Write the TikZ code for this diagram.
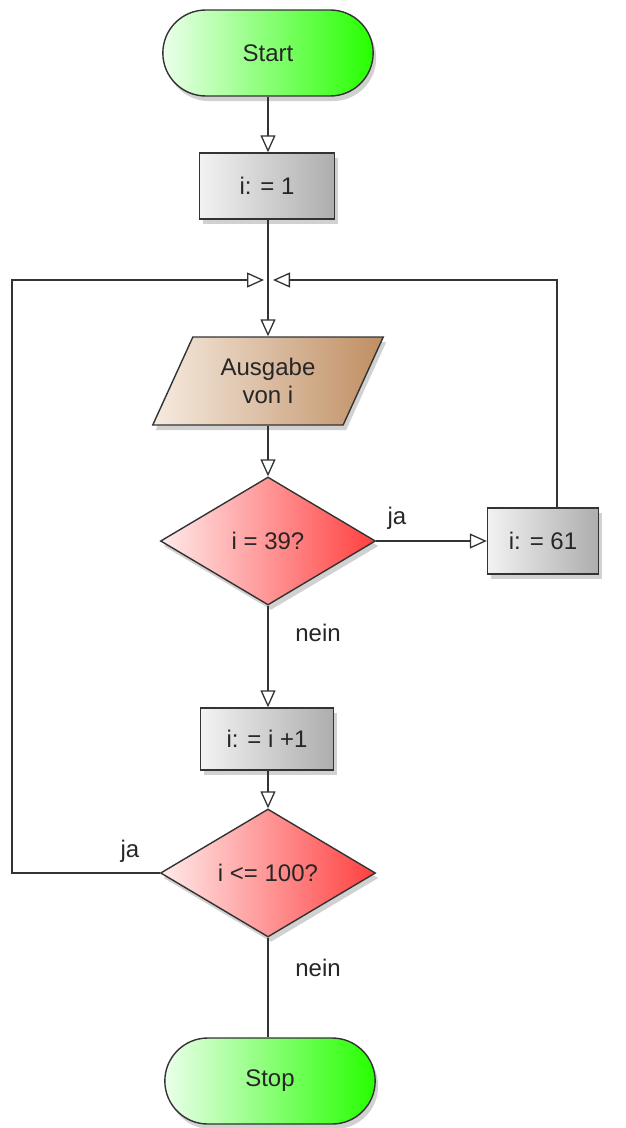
\documentclass[tikz,border=0pt]{standalone}
\usepackage{fontspec}
\setmainfont{Liberation Sans}
\usetikzlibrary{shapes.geometric,shapes.misc,arrows.meta,shadows}
\definecolor{linecol}{HTML}{333333}
\definecolor{tan}{HTML}{BF8E62}
\definecolor{tanlight}{HTML}{F6EBE0}
\begin{document}
\begin{tikzpicture}[x=1pt,y=-1pt,
  every node/.style={font=\fontsize{24}{28}\selectfont, text=black!85},
  base/.style={draw=linecol, line width=1.4pt,
    drop shadow={shadow xshift=3pt, shadow yshift=-5pt, opacity=0.18, fill=black}},
  term/.style={base, rounded rectangle, minimum width=217pt, minimum height=86pt,
    left color=green!8, right color=green!80!lime},
  proc/.style={base, rectangle, minimum height=66pt, inner sep=0pt,
    left color=black!5, right color=black!32},
  io/.style={base, trapezium, trapezium left angle=61, trapezium right angle=119,
    trapezium stretches=true, minimum width=231pt, minimum height=88pt, align=center,
    inner sep=0pt, left color=tanlight, right color=tan},
  dec/.style={base, diamond, minimum width=215pt, minimum height=128pt, inner sep=0pt,
    left color=red!8, right color=red!75},
  conn/.style={draw=linecol, line width=1.4pt},
  arr/.style={conn, -{Triangle[open, length=17pt, width=15pt, line width=1.3pt]}},
  lbl/.style={inner sep=0pt}
]
\useasboundingbox (0,0) rectangle (626,1128);

\node[term] (start) at (268,53) {Start};
\node[proc, minimum width=135pt] (b1) at (267,186) {i: = 1};
\coordinate (j) at (268,280);
\coordinate (lc) at (12,280);
\coordinate (rc) at (557,280);
\node[io] (out) at (268,381) {Ausgabe\\von i};
\node[dec] (d1) at (268,541) {i = 39?};
\node[proc, minimum width=111pt] (b61) at (543,541) {i: = 61};
\node[proc, minimum width=133pt, minimum height=62pt] (b2) at (267,739) {i: = i +1};
\node[dec] (d2) at (268,873) {i <= 100?};
\node[term] (stop) at (270,1081) {Stop};

\node[lbl] (ja1) at (397,518) {ja};
\node[lbl] (nein1) at (318,633) {nein};
\node[lbl] (ja2) at (130,851) {ja};
\node[lbl] (nein2) at (318,968) {nein};

\draw[arr] (start.south -| j) -- (b1.north -| j);
\draw[conn] (b1.south -| j) -- (j);
\draw[arr] (j) -- (out.north -| j);
\draw[arr] (out.south -| j) -- (d1.north);
\draw[arr] (d1.east) -- (b61.west);
\draw[arr] (rc |- b61.north) -- (rc) -- ([xshift=5pt]j);
\draw[arr] (d1.south) -- (b2.north -| d1.south);
\draw[arr] (b2.south -| d1.south) -- (d2.north);
\draw[arr] (d2.west) -| (lc) -- ([xshift=-4pt]j);
\draw[conn] (d2.south) -- (stop.north -| d2.south);
\end{tikzpicture}
\end{document}
